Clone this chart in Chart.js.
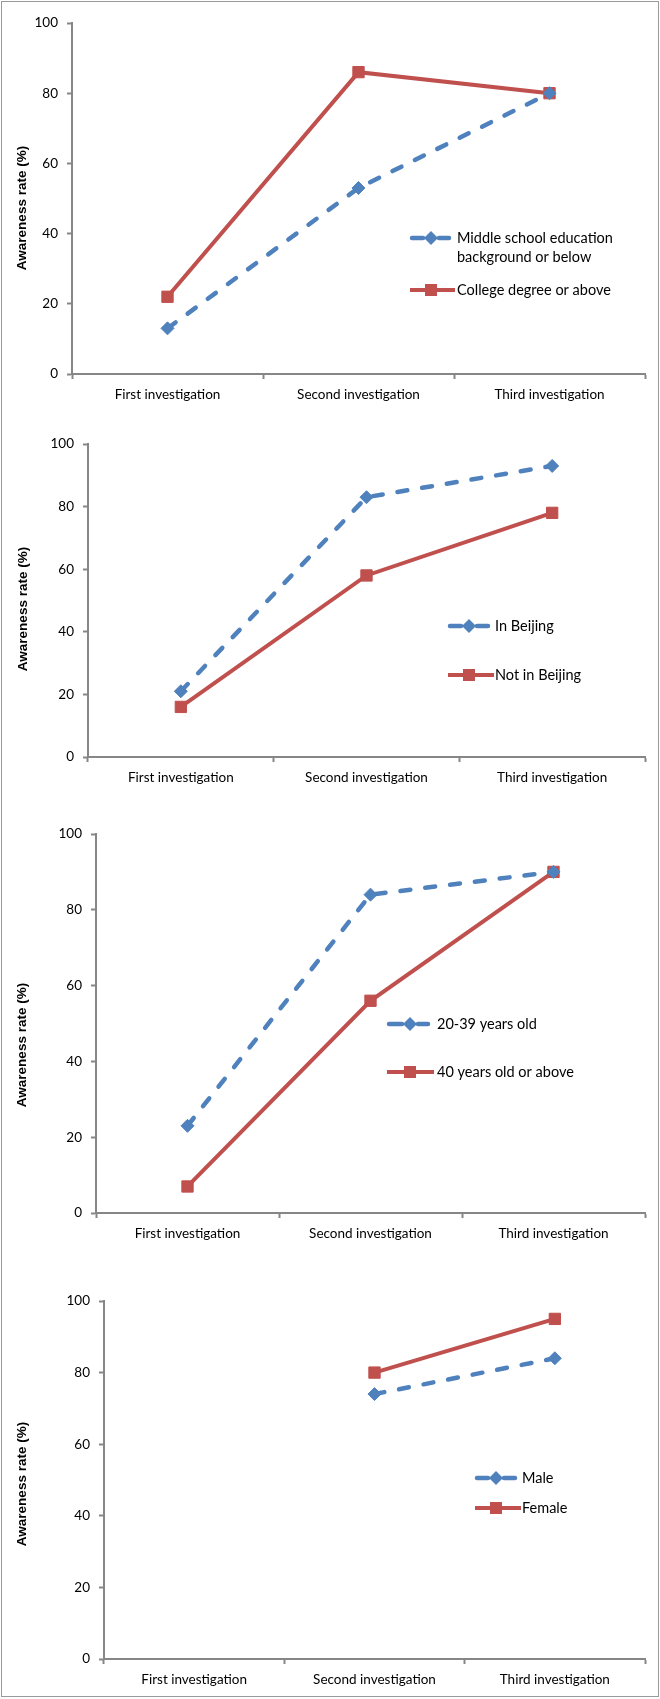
<!DOCTYPE html>
<html>
<head>
<meta charset="utf-8">
<title>Awareness rate by group</title>
<script src="https://cdn.jsdelivr.net/npm/chart.js@4.4.1/dist/chart.umd.min.js"></script>
<style>
  html, body { margin: 0; padding: 0; background: #fff; }
  #page { position: relative; width: 660px; height: 1699px; }
  #page canvas { position: absolute; left: 0; }
  #frame { position: absolute; left: 1px; top: 1px; width: 656px; height: 1694px; border: 1px solid #9a9a9a; pointer-events: none; }
</style>
</head>
<body>
<div id="page">
  <canvas id="eduChart" width="660" height="405" style="top:0px"></canvas>
  <canvas id="placeChart" width="660" height="390" style="top:405px"></canvas>
  <canvas id="ageChart" width="660" height="455" style="top:795px"></canvas>
  <canvas id="sexChart" width="660" height="449" style="top:1250px"></canvas>
  <div id="frame"></div>
</div>
<script>
// categories and y ticks shared by all four panels
const categories = ['First investigation', 'Second investigation', 'Third investigation'];
const yTickValues = [0, 20, 40, 60, 80, 100];
const yTitle = 'Awareness rate (%)';

// panel 1: education
const eduNames = [['Middle school education', 'background or below'], 'College degree or above'];
const eduMiddle = [13, 53, 80];
const eduCollege = [22, 86, 80];

// panel 2: residence
const placeNames = ['In Beijing', 'Not in Beijing'];
const inBeijing = [21, 83, 93];
const notInBeijing = [16, 58, 78];

// panel 3: age
const ageNames = ['20-39 years old', '40 years old or above'];
const ageYoung = [23, 84, 90];
const ageOld = [7, 56, 90];

// panel 4: sex (not asked in the first investigation)
const sexNames = ['Male', 'Female'];
const male = [null, 74, 84];
const female = [null, 80, 95];

const BLUE = '#4f81bd';
const RED = '#c0504d';
const AXIS = '#868686';
const FONT = 'Lato, "Open Sans", sans-serif';

function drawMarker(ctx, style, x, y, r, color) {
  ctx.fillStyle = color;
  ctx.beginPath();
  if (style === 'rect') {
    const s = r * Math.SQRT1_2;
    ctx.rect(x - s, y - s, 2 * s, 2 * s);
  } else {
    ctx.moveTo(x - r, y);
    ctx.lineTo(x, y - r);
    ctx.lineTo(x + r, y);
    ctx.lineTo(x, y + r);
    ctx.closePath();
  }
  ctx.fill();
}

// legend sitting inside the plot, Excel style
const innerLegend = {
  id: 'innerLegend',
  afterDraw(chart, args, opts) {
    const ctx = chart.ctx;
    ctx.save();
    ctx.font = '14.5px ' + FONT;
    ctx.textBaseline = 'middle';
    ctx.textAlign = 'left';
    opts.items.forEach((it, i) => {
      const ds = chart.data.datasets[i];
      ctx.strokeStyle = ds.borderColor;
      ctx.lineWidth = ds.borderWidth;
      ctx.lineCap = ds.borderDash ? 'round' : 'butt';
      ctx.beginPath();
      if (ds.borderDash) {
        ctx.moveTo(opts.x0 + 2, it.y); ctx.lineTo(opts.mx - 8, it.y);
        ctx.moveTo(opts.mx + 8, it.y); ctx.lineTo(opts.x1 - 2, it.y);
      } else {
        ctx.moveTo(opts.x0, it.y); ctx.lineTo(opts.x1 + 4, it.y);
      }
      ctx.stroke();
      drawMarker(ctx, ds.pointStyle, opts.mx, it.y, ds.pointRadius + 0.5, ds.borderColor);
      ctx.fillStyle = '#000';
      const lines = Array.isArray(ds.label) ? ds.label : [ds.label];
      lines.forEach((t, k) => ctx.fillText(t, opts.tx, it.y + k * 19));
    });
    ctx.restore();
  }
};

// rotated y axis title placed by hand
const sideTitle = {
  id: 'sideTitle',
  afterDraw(chart, args, opts) {
    const ctx = chart.ctx;
    ctx.save();
    ctx.translate(opts.x, opts.y);
    ctx.rotate(-Math.PI / 2);
    ctx.font = 'bold 13.5px "Liberation Sans", Arial, sans-serif';
    ctx.fillStyle = '#000';
    ctx.textAlign = 'center';
    ctx.textBaseline = 'middle';
    ctx.fillText(yTitle, 0, 0);
    ctx.restore();
  }
};

function makeChart(id, names, blueData, redData, box, legend, title) {
  const canvas = document.getElementById(id);
  return new Chart(canvas, {
    type: 'line',
    data: {
      labels: categories,
      datasets: [
        {
          label: names[0],
          data: blueData,
          borderColor: BLUE,
          backgroundColor: BLUE,
          borderWidth: 4.5,
          borderDash: [10, 15],
          borderCapStyle: 'round',
          pointStyle: 'rectRot',
          pointRadius: 6.5,
          pointBorderWidth: 1,
          tension: 0,
          clip: false
        },
        {
          label: names[1],
          data: redData,
          borderColor: RED,
          backgroundColor: RED,
          borderWidth: 4,
          pointStyle: 'rect',
          pointRadius: 8,
          pointBorderWidth: 1,
          tension: 0,
          clip: false
        }
      ]
    },
    options: {
      responsive: false,
      animation: false,
      devicePixelRatio: 1,
      layout: { padding: { top: box.top, right: 660 - box.right, left: 0, bottom: 0 } },
      plugins: {
        legend: { display: false },
        tooltip: { enabled: false },
        innerLegend: legend,
        sideTitle: title
      },
      scales: {
        x: {
          offset: true,
          afterFit: s => { s.height = canvas.height - box.bottom; },
          grid: { offset: true, drawOnChartArea: false, drawTicks: true, tickLength: 5, tickColor: AXIS, tickWidth: 2 },
          border: { color: AXIS, width: 2 },
          ticks: { color: '#000', font: { family: FONT, size: 13.5 }, padding: 8, maxRotation: 0 }
        },
        y: {
          min: 0,
          max: 100,
          afterFit: s => { s.width = box.left; },
          afterBuildTicks: s => { s.ticks = yTickValues.map(v => ({ value: v })); },
          grid: { drawOnChartArea: false, drawTicks: true, tickLength: 5, tickColor: AXIS, tickWidth: 2 },
          border: { color: AXIS, width: 2 },
          ticks: { color: '#000', font: { family: FONT, size: 13.5 }, padding: 9 }
        }
      }
    },
    plugins: [innerLegend, sideTitle]
  });
}

makeChart('eduChart', eduNames, eduMiddle, eduCollege,
  { top: 23, bottom: 374, left: 72, right: 645 },
  { x0: 410, x1: 451, mx: 431, tx: 457, items: [{ y: 238 }, { y: 290 }] },
  { x: 22, y: 208 });

makeChart('placeChart', placeNames, inBeijing, notInBeijing,
  { top: 39, bottom: 352, left: 88, right: 645 },
  { x0: 448, x1: 490, mx: 469, tx: 495, items: [{ y: 221 }, { y: 270 }] },
  { x: 23, y: 204 });

makeChart('ageChart', ageNames, ageYoung, ageOld,
  { top: 39, bottom: 418, left: 96, right: 645 },
  { x0: 387, x1: 430, mx: 410, tx: 437, items: [{ y: 229 }, { y: 277 }] },
  { x: 22, y: 250 });

makeChart('sexChart', sexNames, male, female,
  { top: 51, bottom: 409, left: 104, right: 645 },
  { x0: 475, x1: 517, mx: 496, tx: 522, items: [{ y: 228 }, { y: 258 }] },
  { x: 22, y: 234 });
</script>
</body>
</html>
